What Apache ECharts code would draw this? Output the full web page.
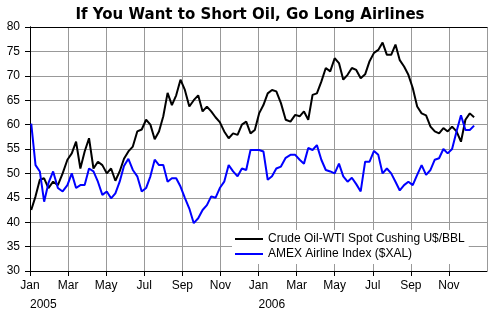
<!DOCTYPE html>
<html>
<head>
<meta charset="utf-8">
<script src="https://cdn.jsdelivr.net/npm/echarts@6/dist/echarts.min.js"></script>
<style>
  html, body { margin: 0; padding: 0; background: #fff; }
  #chart { width: 500px; height: 325px; }
</style>
</head>
<body>
<div id="chart"></div>
<script>
// Weekly closes, first week starting Monday 3 Jan 2005
const firstWeek = [2005, 0, 3];

// Crude Oil-WTI Spot Cushing, US$ per barrel
const oilWTI = [
  42.5, 45.3, 48.7, 49.0, 47.0, 48.3, 47.6, 50.0, 52.8, 54.1,
  56.5, 51.0, 54.5, 57.2, 51.0, 52.4, 51.7, 50.0, 51.0, 48.5,
  50.4, 53.0, 54.5, 55.5, 58.6, 59.0, 61.0, 60.0, 57.0, 58.6,
  61.7, 66.5, 64.0, 66.0, 69.2, 67.1, 63.7, 65.0, 66.0, 62.7,
  63.7, 62.7, 61.5, 60.5, 58.6, 57.2, 58.2, 57.9, 60.0, 60.6,
  58.2, 58.9, 62.3, 64.0, 66.4, 67.1, 66.8, 64.4, 61.0, 60.6,
  62.0, 61.7, 62.7, 61.0, 66.1, 66.4, 68.8, 71.6, 70.9, 73.6,
  72.6, 69.2, 70.2, 71.6, 71.2, 69.5, 70.3, 73.0, 74.7, 75.3,
  76.8, 74.3, 74.3, 76.4, 73.2, 71.9, 70.2, 67.5, 63.7, 62.3,
  61.9, 59.6, 58.6, 58.2, 59.3, 58.6, 59.6, 58.6, 56.5, 61.0,
  62.3, 61.5
];

// AMEX Airline Index ($XAL)
const airlineXAL = [
  60.2, 51.7, 50.4, 44.2, 48.0, 50.4, 47.0, 46.3, 47.6, 50.0,
  47.0, 47.6, 47.6, 51.0, 50.4, 48.3, 45.6, 46.3, 44.9, 45.9,
  48.3, 51.5, 53.0, 50.7, 49.4, 46.3, 47.0, 49.4, 52.8, 51.7,
  51.7, 48.3, 49.0, 49.0, 47.3, 45.0, 42.8, 39.8, 40.8, 42.5,
  43.5, 45.3, 45.0, 47.0, 48.3, 51.7, 50.4, 49.4, 51.0, 50.7,
  54.8, 54.8, 54.8, 54.5, 48.7, 49.4, 51.0, 51.4, 53.2, 53.8,
  53.8, 52.8, 52.0, 55.2, 54.8, 55.8, 52.8, 50.7, 50.4, 50.0,
  52.0, 49.4, 48.3, 49.1, 47.8, 46.3, 52.4, 52.4, 54.6, 53.8,
  50.0, 51.0, 50.0, 48.3, 46.5, 47.6, 48.3, 47.6, 49.7, 51.7,
  49.7, 50.7, 52.8, 53.1, 55.0, 54.1, 55.0, 58.6, 61.9, 58.9,
  58.9, 59.8
];

const monthNames = ['Jan','Feb','Mar','Apr','May','Jun','Jul','Aug','Sep','Oct','Nov','Dec'];
const years = [2005, 2006];
const yTicks = { min: 30, max: 80, step: 5 };

// Position of a date on the x axis, in months since 1 Jan 2005
function monthPos(d) {
  const y = d.getUTCFullYear(), m = d.getUTCMonth(), day = d.getUTCDate();
  const dim = new Date(Date.UTC(y, m + 1, 0)).getUTCDate();
  return (y - years[0]) * 12 + m + (day - 1) / dim;
}
function weekDate(k) {
  return new Date(Date.UTC(firstWeek[0], firstWeek[1], firstWeek[2] + 7 * k));
}
const oilData = oilWTI.map((v, k) => [monthPos(weekDate(k)), v]);
const xalData = airlineXAL.map((v, k) => [monthPos(weekDate(k)), v]);

const FONT = 'Liberation Sans, Arial, sans-serif';
const chart = echarts.init(document.getElementById('chart'), null, { renderer: 'canvas' });

chart.setOption({
  animation: false,
  backgroundColor: '#fff',
  title: {
    text: 'If You Want to Short Oil, Go Long Airlines',
    left: 'center',
    top: 3,
    textStyle: { fontFamily: 'DejaVu Sans, Verdana, sans-serif', fontWeight: 'bold', fontSize: 15, color: '#000' }
  },
  grid: { left: 30, top: 27, width: 457, height: 244, containLabel: false },
  legend: {
    orient: 'vertical',
    left: 232,
    top: 230,
    padding: [3, 4, 4, 3],
    itemGap: 3,
    itemWidth: 28,
    itemHeight: 2,
    icon: 'rect',
    backgroundColor: '#fff',
    textStyle: { fontFamily: FONT, fontSize: 12, color: '#000' },
    data: ['Crude Oil-WTI Spot Cushing U$/BBL', 'AMEX Airline Index ($XAL)']
  },
  xAxis: [
    {
      type: 'value', min: 0, max: 24, interval: 2, position: 'bottom',
      axisLine: { show: true, lineStyle: { color: '#000', width: 1 } },
      axisTick: { show: true, inside: false, length: 5, lineStyle: { color: '#000' } },
      axisLabel: {
        margin: 9, fontFamily: FONT, fontSize: 12, color: '#000',
        formatter: v => (v % 2 === 0 && v < 24) ? monthNames[v % 12] : '',
        showMaxLabel: false
      },
      splitLine: { show: true, lineStyle: { color: '#999', width: 1 } }
    },
    {
      // year labels under each January
      type: 'value', min: 0, max: 24, interval: 12, position: 'bottom',
      axisLine: { show: false }, axisTick: { show: false }, splitLine: { show: false },
      axisLabel: {
        margin: 28, align: 'left', fontFamily: FONT, fontSize: 12, color: '#000',
        formatter: v => (v < 24) ? String(years[0] + v / 12) : '',
        showMaxLabel: false
      }
    },
    {
      // top border of the plot area
      type: 'value', min: 0, max: 24, position: 'top',
      axisLine: { show: true, lineStyle: { color: '#000', width: 1 } },
      axisTick: { show: false }, axisLabel: { show: false }, splitLine: { show: false }
    }
  ],
  yAxis: [
    {
      type: 'value', min: yTicks.min, max: yTicks.max, interval: yTicks.step, position: 'left',
      axisLine: { show: true, lineStyle: { color: '#000', width: 1 } },
      axisTick: { show: true, inside: false, length: 5, lineStyle: { color: '#000' } },
      axisLabel: { margin: 10, fontFamily: FONT, fontSize: 12, color: '#000' },
      splitLine: { show: true, lineStyle: { color: '#999', width: 1 } }
    },
    {
      // right border of the plot area
      type: 'value', min: yTicks.min, max: yTicks.max, position: 'right',
      axisLine: { show: true, lineStyle: { color: '#000', width: 1 } },
      axisTick: { show: false }, axisLabel: { show: false }, splitLine: { show: false }
    }
  ],
  series: [
    {
      name: 'Crude Oil-WTI Spot Cushing U$/BBL',
      type: 'line', xAxisIndex: 0, yAxisIndex: 0,
      data: oilData, showSymbol: false, symbol: 'none',
      lineStyle: { color: '#000', width: 2 }, itemStyle: { color: '#000' }
    },
    {
      name: 'AMEX Airline Index ($XAL)',
      type: 'line', xAxisIndex: 0, yAxisIndex: 0,
      data: xalData, showSymbol: false, symbol: 'none',
      lineStyle: { color: '#0000ff', width: 2 }, itemStyle: { color: '#0000ff' }
    }
  ]
});
</script>
</body>
</html>
